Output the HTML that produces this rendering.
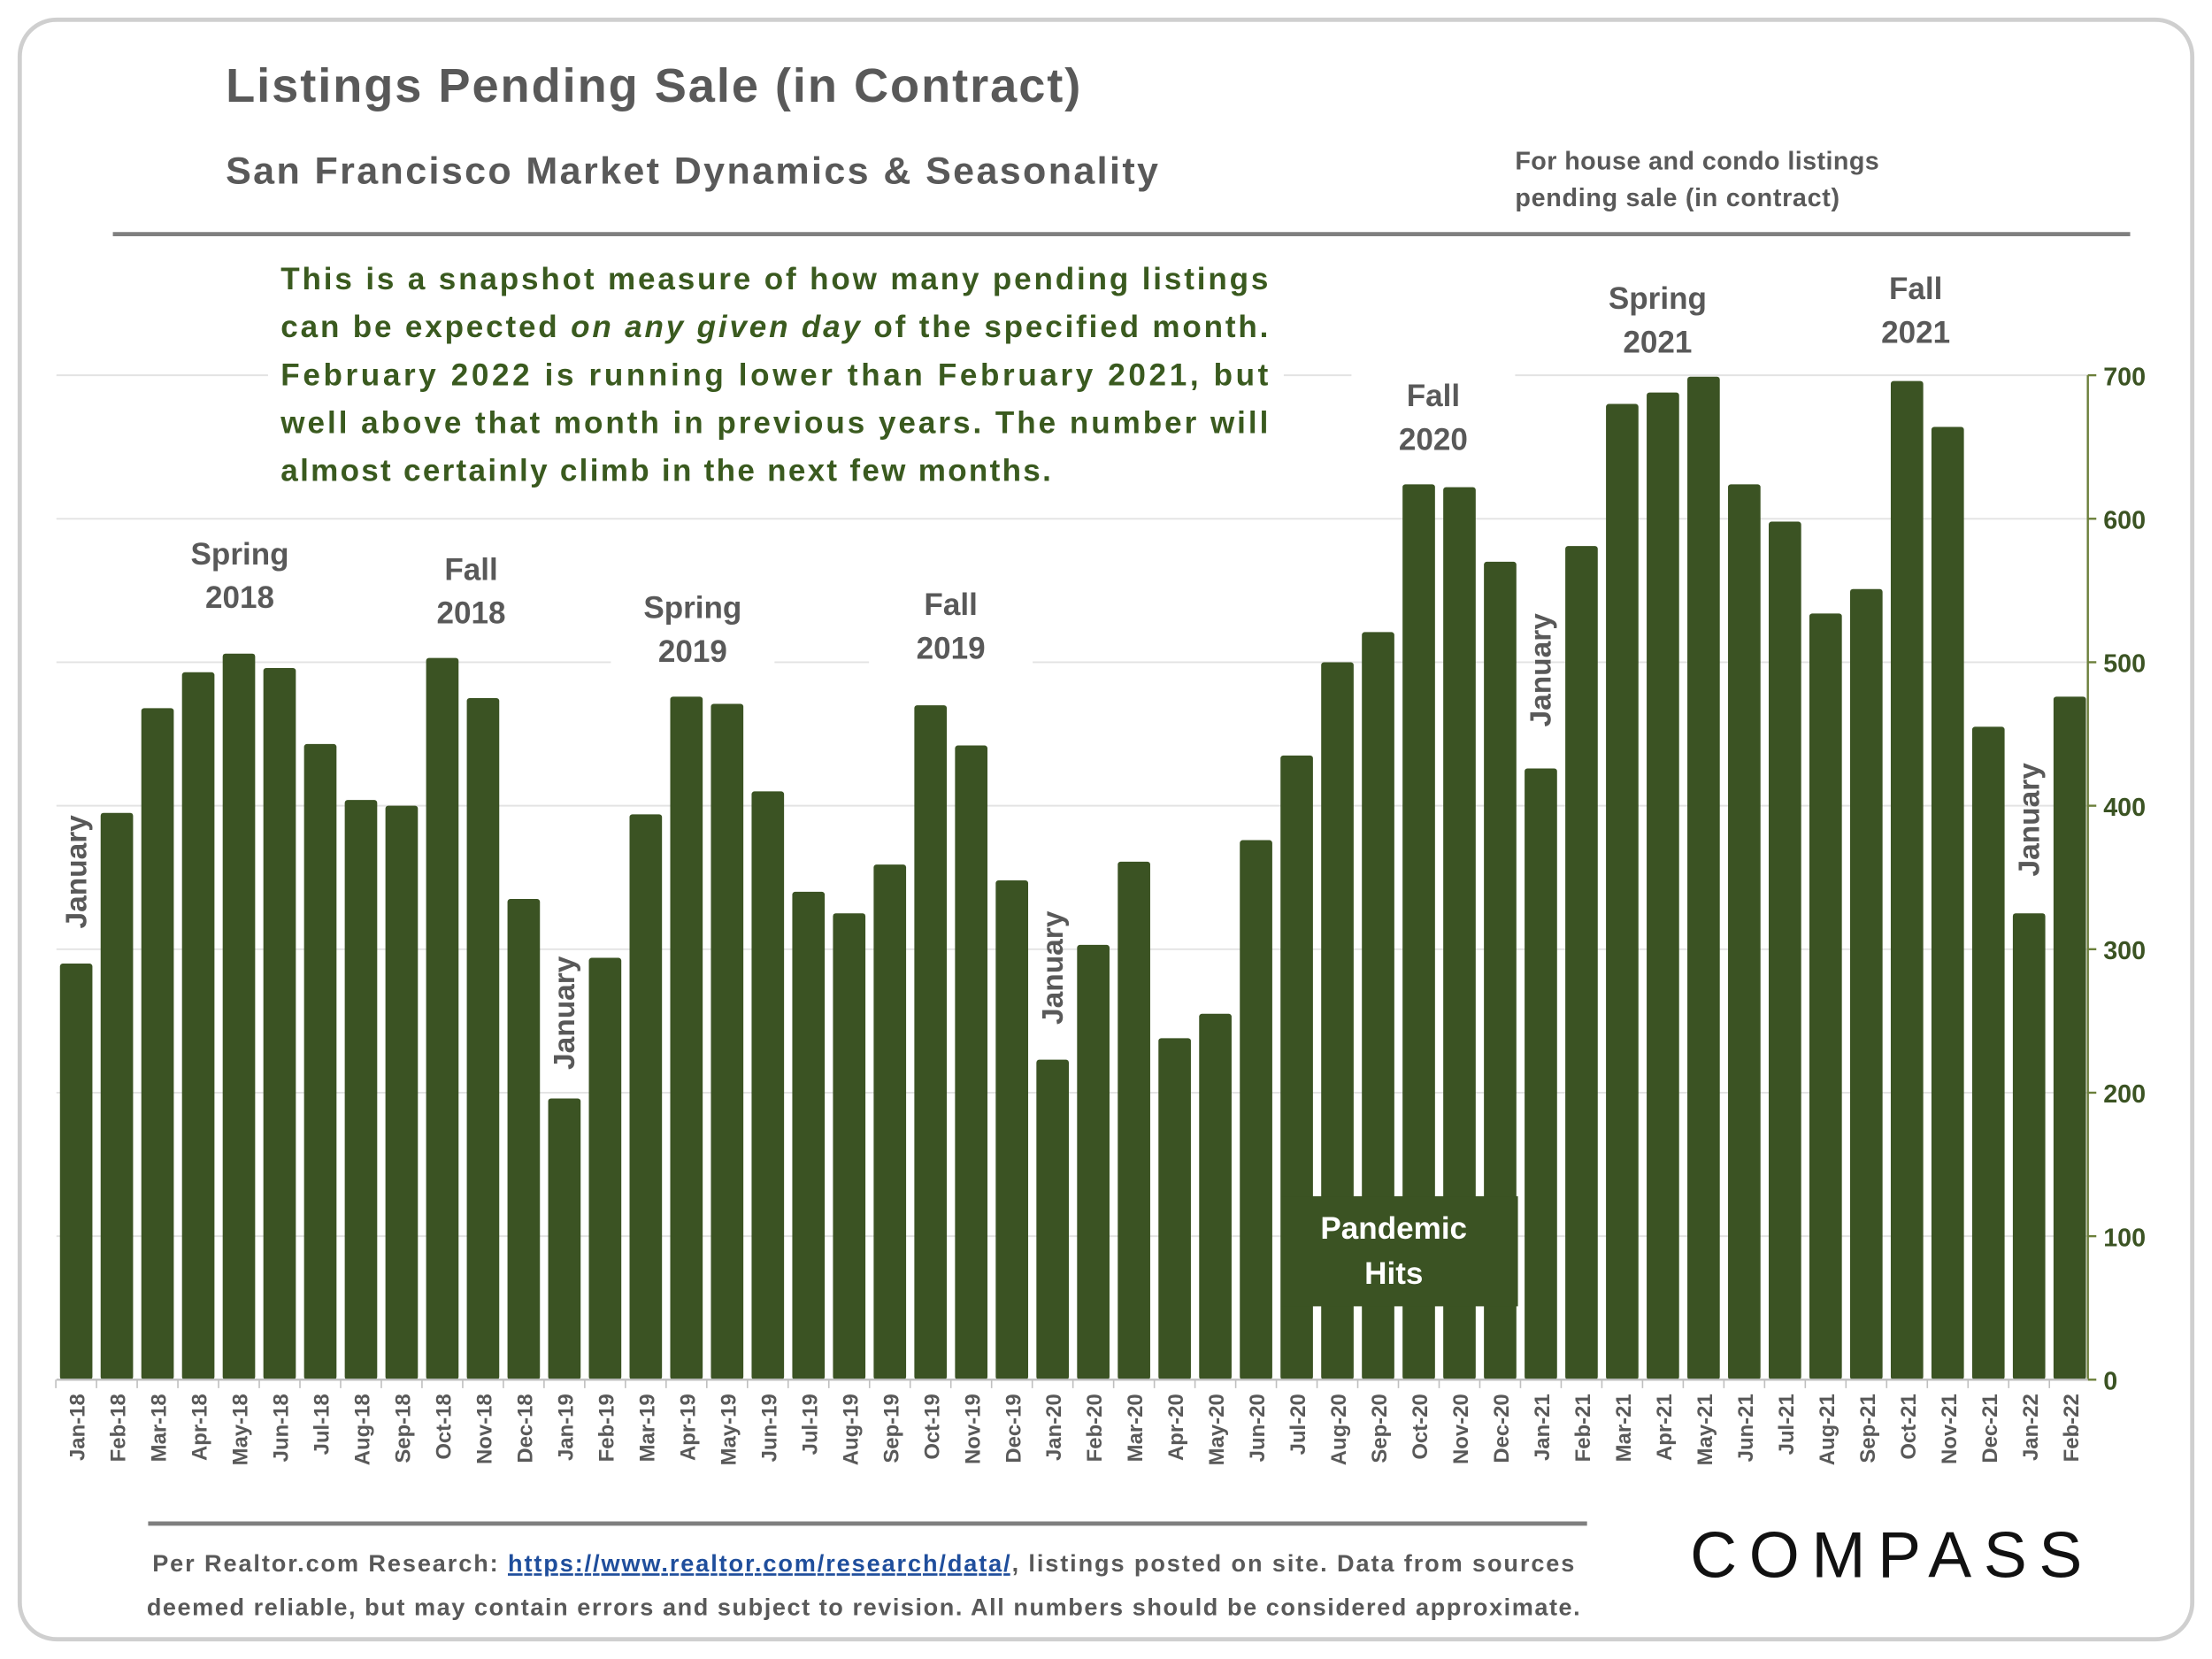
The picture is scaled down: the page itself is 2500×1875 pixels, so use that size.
<!DOCTYPE html>
<html><head><meta charset="utf-8"><style>
html,body{margin:0;padding:0;background:#fff}
svg{display:block;font-family:"Liberation Sans",sans-serif}
</style></head><body>
<svg id="chart" width="2500" height="1875" viewBox="0 0 1568 1176">
<rect x="14" y="14" width="1540" height="1148" rx="26" fill="#fff" stroke="#cfcfcf" stroke-width="3"/>
<text x="160" y="72" font-size="34" font-weight="bold" fill="#595959" textLength="606">Listings Pending Sale (in Contract)</text>
<text x="160" y="130" font-size="27" font-weight="bold" fill="#595959" textLength="661">San Francisco Market Dynamics &amp; Seasonality</text>
<text x="1074" y="120" font-size="18" font-weight="bold" fill="#595959" textLength="258">For house and condo listings</text>
<text x="1074" y="146" font-size="18" font-weight="bold" fill="#595959" textLength="230">pending sale (in contract)</text>
<line x1="80" y1="166" x2="1510" y2="166" stroke="#7f7f7f" stroke-width="3"/>
<g id="grid"></g>
<g id="bars"></g>
<g id="axis"></g>
<g id="xlabels"></g>
<g id="ann"></g>
<g font-size="22" font-weight="bold" fill="#3a5a1f">
<rect x="190" y="176" width="720" height="176" fill="#fff"/>
<text x="199" y="205" textLength="700">This is a snapshot measure of how many pending listings</text>
<text x="199" y="239" textLength="700">can be expected <tspan font-style="italic">on any given day</tspan> of the specified month.</text>
<text x="199" y="273" textLength="700">February 2022 is running lower than February 2021, but</text>
<text x="199" y="307" textLength="700">well above that month in previous years. The number will</text>
<text x="199" y="341" textLength="546">almost certainly climb in the next few months.</text>
</g>
<rect x="908" y="848" width="168" height="78" fill="#3b5323"/>
<text x="988" y="878" font-size="22" font-weight="bold" fill="#fff" text-anchor="middle">Pandemic</text>
<text x="988" y="910" font-size="22" font-weight="bold" fill="#fff" text-anchor="middle">Hits</text>
<line x1="105" y1="1080" x2="1125" y2="1080" stroke="#7f7f7f" stroke-width="3"/>
<text x="612" y="1114" font-size="17" font-weight="bold" fill="#595959" text-anchor="middle" textLength="1008">Per Realtor.com Research:  <tspan fill="#1f4e9c" text-decoration="underline">https://www.realtor.com/research/data/</tspan>, listings posted on site. Data from sources</text>
<text x="612" y="1145" font-size="17" font-weight="bold" fill="#595959" text-anchor="middle" textLength="1016">deemed reliable, but may contain errors and subject to revision. All numbers should be considered approximate.</text>
<text x="1198" y="1118" font-size="46" fill="#111" letter-spacing="6" textLength="284">COMPASS</text>
<script>
const categories=["Jan-18","Feb-18","Mar-18","Apr-18","May-18","Jun-18","Jul-18","Aug-18","Sep-18","Oct-18","Nov-18","Dec-18","Jan-19","Feb-19","Mar-19","Apr-19","May-19","Jun-19","Jul-19","Aug-19","Sep-19","Oct-19","Nov-19","Dec-19","Jan-20","Feb-20","Mar-20","Apr-20","May-20","Jun-20","Jul-20","Aug-20","Sep-20","Oct-20","Nov-20","Dec-20","Jan-21","Feb-21","Mar-21","Apr-21","May-21","Jun-21","Jul-21","Aug-21","Sep-21","Oct-21","Nov-21","Dec-21","Jan-22","Feb-22"];
const pending=[290,395,468,493,506,496,443,404,400,503,475,335,196,294,394,476,471,410,340,325,359,470,442,348,223,303,361,238,255,376,435,500,521,624,622,570,426,581,680,688,699,624,598,534,551,696,664,455,325,476];
const yTicks=[0,100,200,300,400,500,600,700];
const NS="http://www.w3.org/2000/svg";
const y0=978,yTop=266,yMax=700,xFirst=54,step=28.84,bw=23;
function yS(v){return y0-(v/yMax)*(y0-yTop);}
function xS(i){return xFirst+i*step;}
function mk(t,a,p){const e=document.createElementNS(NS,t);for(const k in a)e.setAttribute(k,a[k]);p.appendChild(e);return e;}
const grid=document.getElementById('grid'),bars=document.getElementById('bars'),axis=document.getElementById('axis'),xl=document.getElementById('xlabels'),ann=document.getElementById('ann');
yTicks.forEach(t=>{
 if(t>0){const g=mk('line',{x1:40,x2:1480,y1:yS(t),y2:yS(t),stroke:'#e3e3e3','stroke-width':1.2},grid);
 
 }
 const tk=mk('line',{x1:1480,x2:1486,y1:yS(t),y2:yS(t),stroke:'#6b7f3a','stroke-width':1.5},axis);
 
 
 const lb=mk('text',{x:1491,y:yS(t)+7,'font-size':18,'font-weight':'bold',fill:'#3b5323'},axis);
 lb.textContent=t;
 
 
});
const al=mk('line',{x1:1480,x2:1480,y1:yTop,y2:y0,stroke:'#6b7f3a','stroke-width':1.5},axis);


const xa=mk('line',{x1:40,x2:1480,y1:y0,y2:y0,stroke:'#bfbfbf','stroke-width':1.5},axis);


pending.forEach((v,i)=>{
 const r=mk('rect',{x:xS(i)-bw/2,y:yS(v),width:bw,height:y0-yS(v),fill:'#3b5323',rx:2},bars);
 
 
 const tk=mk('line',{x1:xS(i)-step/2,x2:xS(i)-step/2,y1:y0,y2:y0+6,stroke:'#bfbfbf'},axis);
 
 
 const t=mk('text',{x:0,y:0,'font-size':15,'font-weight':'bold',fill:'#595959','text-anchor':'end',transform:`translate(${xS(i)+6},${y0+10}) rotate(-90)`},xl);
 t.textContent=categories[i];
 
 
});
const jan=[[0,618],[12,718],[24,686],[36,475],[48,581]];
jan.forEach(([i,yc])=>{
 const t=mk('text',{x:0,y:0,'font-size':21,'font-weight':'bold',fill:'#595959','text-anchor':'middle',transform:`translate(${xS(i)+7},${yc}) rotate(-90)`},ann);
 t.textContent='January';
 
 
});
const seasons=[["Spring","2018",170,400],["Fall","2018",334,411],["Spring","2019",491,438],["Fall","2019",674,436],["Fall","2020",1016,288],["Spring","2021",1175,219],["Fall","2021",1358,212]];
seasons.forEach(([a,b,x,y])=>{
 const bg=mk('rect',{x:x-58,y:y-24,width:116,height:68,fill:'#fff'},ann);
 
 
 const t=mk('text',{x:x,y:y,'font-size':22,'font-weight':'bold',fill:'#595959','text-anchor':'middle'},ann);
 t.textContent=a;
 
 
 const t2=mk('text',{x:x,y:y+31,'font-size':22,'font-weight':'bold',fill:'#595959','text-anchor':'middle'},ann);
 t2.textContent=b;
 
 
});
</script>
</svg>
</body></html>
